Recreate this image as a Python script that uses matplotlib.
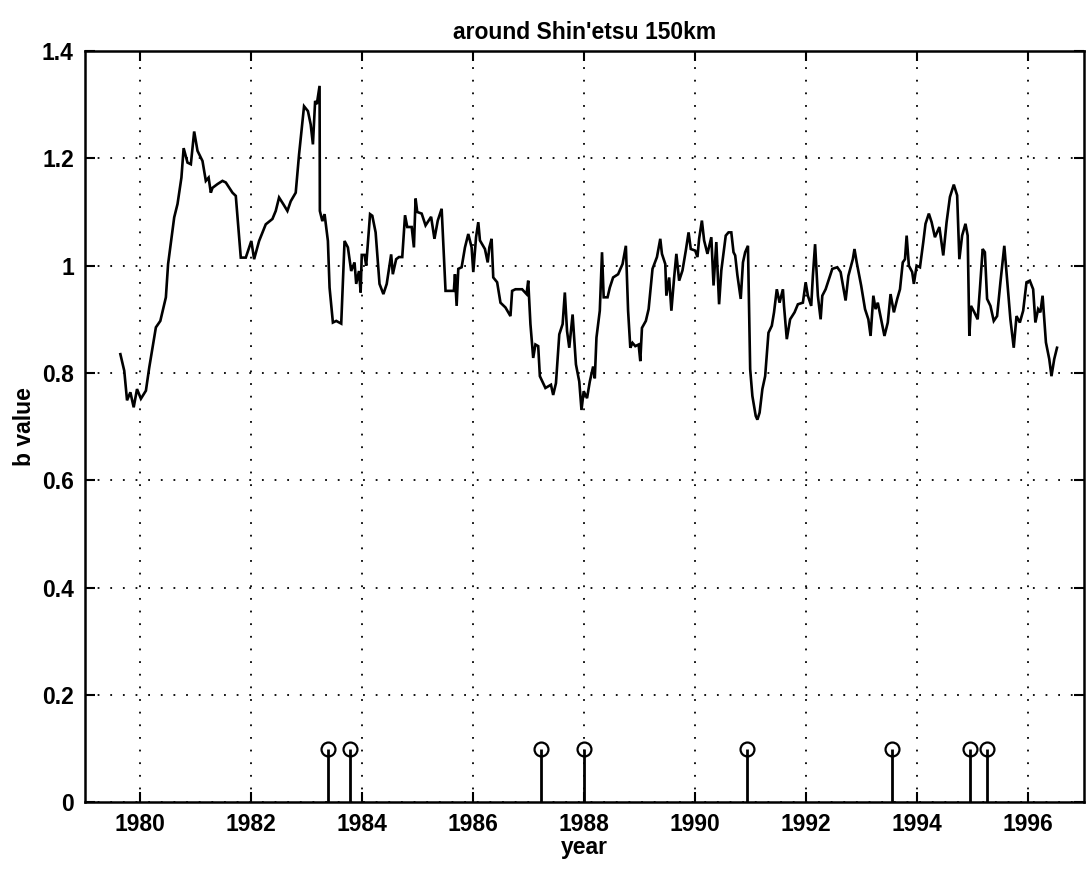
import matplotlib
matplotlib.use("Agg")
import matplotlib.pyplot as plt
import numpy as np

plt.rcParams['font.family'] = ['Liberation Sans', 'DejaVu Sans']

# b-value time series (year, b value)
years = [
    1979.64, 1979.71, 1979.76, 1979.82, 1979.88, 1979.94, 1980.01, 1980.10, 1980.16, 1980.28,
    1980.36, 1980.46, 1980.50, 1980.61, 1980.67, 1980.74, 1980.78, 1980.85, 1980.91, 1980.97,
    1981.03, 1981.12, 1981.18, 1981.23, 1981.27, 1981.30, 1981.39, 1981.48, 1981.54, 1981.66,
    1981.72, 1981.81, 1981.90, 1982.00, 1982.05, 1982.14, 1982.26, 1982.38, 1982.44, 1982.50,
    1982.58, 1982.65, 1982.71, 1982.80, 1982.86, 1982.95, 1983.02, 1983.07, 1983.11, 1983.15,
    1983.18, 1983.23, 1983.235, 1983.28, 1983.32, 1983.38, 1983.41, 1983.47, 1983.53, 1983.62,
    1983.68, 1983.74, 1983.80, 1983.86, 1983.89, 1983.94, 1983.97, 1983.99, 1984.04, 1984.07,
    1984.14, 1984.18, 1984.24, 1984.31, 1984.38, 1984.44, 1984.52, 1984.55, 1984.61, 1984.66,
    1984.72, 1984.77, 1984.81, 1984.89, 1984.93, 1984.96, 1984.99, 1985.07, 1985.14, 1985.24,
    1985.30, 1985.36, 1985.43, 1985.50, 1985.57, 1985.65, 1985.67, 1985.70, 1985.73, 1985.79,
    1985.85, 1985.91, 1985.97, 1986.00, 1986.05, 1986.09, 1986.12, 1986.21, 1986.26, 1986.29,
    1986.33, 1986.36, 1986.43, 1986.49, 1986.58, 1986.67, 1986.70, 1986.76, 1986.88, 1986.96,
    1986.99, 1987.03, 1987.08, 1987.12, 1987.17, 1987.20, 1987.30, 1987.40, 1987.44, 1987.49,
    1987.55, 1987.61, 1987.65, 1987.69, 1987.73, 1987.79, 1987.85, 1987.91, 1987.95, 1987.99,
    1988.05, 1988.10, 1988.16, 1988.19, 1988.22, 1988.28, 1988.32, 1988.35, 1988.42, 1988.46,
    1988.52, 1988.61, 1988.69, 1988.75, 1988.79, 1988.83, 1988.87, 1988.92, 1988.98, 1989.01,
    1989.04, 1989.11, 1989.16, 1989.23, 1989.31, 1989.37, 1989.40, 1989.46, 1989.48, 1989.53,
    1989.57, 1989.62, 1989.66, 1989.71, 1989.77, 1989.83, 1989.88, 1989.92, 1990.00, 1990.04,
    1990.07, 1990.12, 1990.16, 1990.22, 1990.29, 1990.33, 1990.38, 1990.43, 1990.47, 1990.55,
    1990.60, 1990.65, 1990.69, 1990.72, 1990.76, 1990.82, 1990.86, 1990.90, 1990.95, 1990.99,
    1991.03, 1991.09, 1991.12, 1991.16, 1991.21, 1991.26, 1991.32, 1991.38, 1991.42, 1991.47,
    1991.52, 1991.58, 1991.60, 1991.65, 1991.71, 1991.79, 1991.85, 1991.94, 1991.99, 1992.03,
    1992.09, 1992.12, 1992.16, 1992.21, 1992.26, 1992.29, 1992.35, 1992.40, 1992.47, 1992.56,
    1992.62, 1992.71, 1992.76, 1992.84, 1992.87, 1992.91, 1992.99, 1993.06, 1993.12, 1993.16,
    1993.21, 1993.25, 1993.29, 1993.35, 1993.41, 1993.47, 1993.52, 1993.58, 1993.64, 1993.69,
    1993.74, 1993.78, 1993.81, 1993.85, 1993.91, 1993.94, 1993.99, 1994.05, 1994.11, 1994.15,
    1994.21, 1994.26, 1994.32, 1994.40, 1994.47, 1994.53, 1994.59, 1994.66, 1994.72, 1994.76,
    1994.81, 1994.87, 1994.91, 1994.94, 1994.97, 1995.03, 1995.09, 1995.13, 1995.18, 1995.22,
    1995.26, 1995.32, 1995.38, 1995.44, 1995.50, 1995.57, 1995.62, 1995.68, 1995.74, 1995.79,
    1995.85, 1995.91, 1995.97, 1996.03, 1996.09, 1996.13, 1996.18, 1996.22, 1996.26, 1996.32,
    1996.38, 1996.42, 1996.47, 1996.52,
]
b_values = [
    0.835, 0.804, 0.749, 0.764, 0.736, 0.770, 0.752, 0.767, 0.810, 0.885,
    0.897, 0.941, 1.003, 1.090, 1.115, 1.164, 1.219, 1.192, 1.189, 1.250,
    1.214, 1.195, 1.158, 1.164, 1.136, 1.145, 1.152, 1.158, 1.155, 1.136,
    1.130, 1.015, 1.015, 1.046, 1.012, 1.046, 1.077, 1.087, 1.102, 1.127,
    1.114, 1.102, 1.120, 1.136, 1.207, 1.297, 1.288, 1.263, 1.226, 1.307,
    1.301, 1.335, 1.102, 1.083, 1.096, 1.046, 0.959, 0.894, 0.897, 0.892,
    1.046, 1.034, 0.990, 1.006, 0.966, 0.990, 0.950, 1.020, 1.020, 1.000,
    1.096, 1.093, 1.062, 0.966, 0.947, 0.966, 1.021, 0.984, 1.012, 1.016,
    1.016, 1.094, 1.072, 1.072, 1.034, 1.125, 1.100, 1.097, 1.075, 1.091,
    1.050, 1.084, 1.106, 0.953, 0.953, 0.953, 0.984, 0.925, 0.994, 0.997,
    1.034, 1.059, 1.034, 0.988, 1.053, 1.081, 1.047, 1.031, 1.006, 1.034,
    1.050, 0.978, 0.969, 0.931, 0.922, 0.906, 0.953, 0.956, 0.956, 0.947,
    0.972, 0.891, 0.828, 0.853, 0.850, 0.794, 0.772, 0.778, 0.759, 0.781,
    0.872, 0.891, 0.950, 0.878, 0.847, 0.909, 0.816, 0.784, 0.731, 0.766,
    0.753, 0.784, 0.812, 0.790, 0.866, 0.916, 1.025, 0.941, 0.941, 0.959,
    0.978, 0.984, 1.003, 1.037, 0.916, 0.847, 0.856, 0.850, 0.853, 0.822,
    0.884, 0.897, 0.919, 0.994, 1.016, 1.050, 1.022, 1.003, 0.944, 0.978,
    0.916, 0.978, 1.022, 0.972, 0.991, 1.028, 1.062, 1.031, 1.028, 1.016,
    1.050, 1.084, 1.047, 1.022, 1.053, 0.963, 1.044, 0.928, 0.991, 1.056,
    1.062, 1.062, 1.025, 1.019, 0.982, 0.938, 1.006, 1.025, 1.037, 0.807,
    0.757, 0.720, 0.713, 0.726, 0.770, 0.794, 0.875, 0.888, 0.913, 0.956,
    0.931, 0.956, 0.925, 0.863, 0.900, 0.913, 0.928, 0.931, 0.969, 0.944,
    0.925, 0.981, 1.040, 0.944, 0.900, 0.944, 0.956, 0.972, 0.994, 0.997,
    0.988, 0.935, 0.981, 1.012, 1.031, 1.006, 0.963, 0.919, 0.900, 0.869,
    0.944, 0.919, 0.931, 0.900, 0.869, 0.894, 0.947, 0.913, 0.938, 0.956,
    1.006, 1.012, 1.056, 1.000, 0.988, 0.966, 1.000, 0.997, 1.044, 1.078,
    1.097, 1.081, 1.053, 1.072, 1.019, 1.081, 1.128, 1.151, 1.131, 1.012,
    1.056, 1.078, 1.056, 0.869, 0.925, 0.913, 0.900, 0.956, 1.031, 1.025,
    0.938, 0.925, 0.897, 0.906, 0.969, 1.037, 0.975, 0.900, 0.847, 0.906,
    0.894, 0.916, 0.969, 0.972, 0.956, 0.894, 0.919, 0.913, 0.944, 0.857,
    0.826, 0.794, 0.826, 0.847,
]

# large earthquake markers (stems)
event_years = [1983.38, 1983.78, 1987.22, 1987.99, 1990.93, 1993.54, 1994.95, 1995.25]
event_heights = [0.1, 0.1, 0.1, 0.1, 0.1, 0.1, 0.1, 0.1]

x_ticks = [1980, 1982, 1984, 1986, 1988, 1990, 1992, 1994, 1996]
y_ticks = [0, 0.2, 0.4, 0.6, 0.8, 1.0, 1.2, 1.4]
y_tick_labels = ['0', '0.2', '0.4', '0.6', '0.8', '1', '1.2', '1.4']

fig = plt.figure(figsize=(10.88, 8.72), dpi=100)
ax = fig.add_axes([0.078, 0.080, 0.918, 0.8615])

ax.plot(years, b_values, color='black', linewidth=1.9, solid_joinstyle='miter')

ml, sl, bl = ax.stem(event_years, event_heights, basefmt=' ')
plt.setp(sl, color='black', linewidth=2.0)
plt.setp(ml, marker='o', markersize=10, markerfacecolor='none',
         markeredgecolor='black', markeredgewidth=1.6)

ax.set_xlim(1979, 1997)
ax.set_ylim(0, 1.4)
ax.set_xticks(x_ticks)
ax.set_xticklabels([str(t) for t in x_ticks])
ax.set_yticks(y_ticks)
ax.set_yticklabels(y_tick_labels)

ax.grid(True, color='black', linestyle=(0, (1, 6)), linewidth=1.3)
ax.set_axisbelow(False)

ax.tick_params(direction='in', length=7, width=1.5, top=True, right=True,
               labelsize=16.5, pad=8)
for lab in ax.get_xticklabels() + ax.get_yticklabels():
    lab.set_fontweight('bold')
for sp in ax.spines.values():
    sp.set_linewidth(1.8)

ax.set_xlabel('year', fontsize=16.5, fontweight='bold', labelpad=0)
ax.set_ylabel('b value', fontsize=16.5, fontweight='bold', labelpad=4)
ax.set_title("around Shin'etsu 150km", fontsize=16.5, fontweight='bold', pad=9)

fig.savefig('out.png', dpi=100)
